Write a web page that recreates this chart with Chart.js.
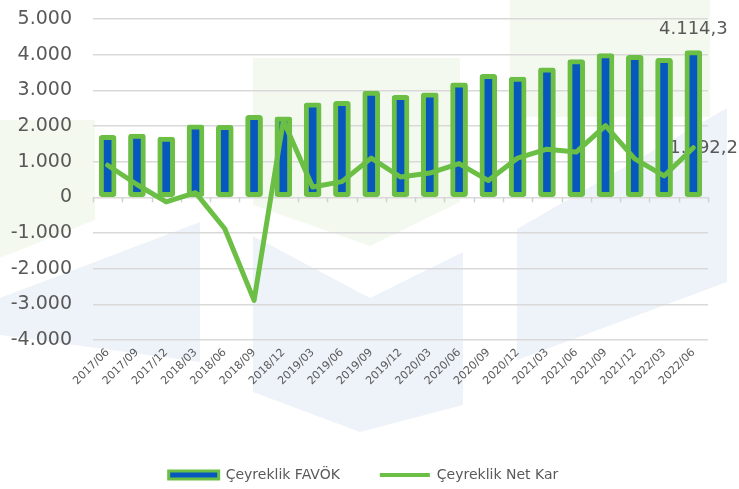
<!DOCTYPE html>
<html>
<head>
<meta charset="utf-8">
<script src="https://cdn.jsdelivr.net/npm/chart.js@4/dist/chart.umd.min.js"></script>
<style>
  html, body { margin: 0; padding: 0; background: #fff; }
  #wrap { width: 739px; height: 489px; }
</style>
</head>
<body>
<div id="wrap"><canvas id="chart" width="739" height="489"></canvas></div>
<script>
// quarters
const periods = ['2017/06', '2017/09', '2017/12', '2018/03', '2018/06', '2018/09', '2018/12',
    '2019/03', '2019/06', '2019/09', '2019/12', '2020/03', '2020/06', '2020/09', '2020/12',
    '2021/03', '2021/06', '2021/09', '2021/12', '2022/03', '2022/06'];

// Çeyreklik FAVÖK (bars)
const favok = [1740, 1770, 1690, 2030, 2020, 2300, 2260, 2650, 2690, 2980, 2860, 2930,
    3210, 3450, 3370, 3630, 3860, 4030, 3980, 3900, 4114.3];

// Çeyreklik Net Kar (line)
const netKar = [900, 360, -130, 130, -880, -2890, 2150, 290, 440, 1100, 570, 680,
    945, 470, 1100, 1350, 1270, 2010, 1080, 600, 1392.2];

const yMin = -4000;
const yMax = 5000;
const yStep = 1000;

const GREEN = '#6cbf45';
const BLUE = '#0657be';
const TEXT = '#595959';

function fmtThousands(n) {
    const s = Math.abs(n).toString().replace(/\B(?=(\d{3})+(?!\d))/g, '.');
    return (n < 0 ? '-' : '') + s;
}
function fmtValue(v) {
    const parts = v.toFixed(1).split('.');
    return fmtThousands(parseInt(parts[0], 10)) + ',' + parts[1];
}

// faint logo watermark behind the chart
const watermark = {
    id: 'watermark',
    beforeDraw(chart) {
        const ctx = chart.ctx;
        const poly = (pts, col) => {
            ctx.beginPath();
            ctx.moveTo(pts[0][0], pts[0][1]);
            for (let i = 1; i < pts.length; i++) ctx.lineTo(pts[i][0], pts[i][1]);
            ctx.closePath();
            ctx.fillStyle = col;
            ctx.fill();
        };
        ctx.save();
        const g = '#f4f9f0';
        const b = '#eef2f9';
        poly([[0, 120], [95, 120], [95, 220], [0, 258]], g);
        poly([[253, 58], [460, 58], [460, 202], [370, 246], [253, 205]], g);
        poly([[510, 0], [710, 0], [710, 117], [510, 117]], g);
        poly([[0, 298], [200, 222], [200, 362], [0, 335]], b);
        poly([[253, 236], [370, 298], [463, 252], [463, 405], [360, 432], [253, 392]], b);
        poly([[517, 229], [727, 108], [727, 282], [517, 360]], b);
        ctx.restore();
    }
};

// small tick marks on the zero line + value labels on the last points
const extras = {
    id: 'extras',
    beforeDatasetsDraw(chart) {
        const ctx = chart.ctx;
        const x = chart.scales.x, y = chart.scales.y;
        const y0 = y.getPixelForValue(0);
        const w = (x.right - x.left) / periods.length;
        ctx.save();
        ctx.strokeStyle = '#d0d0d0';
        ctx.lineWidth = 1.5;
        for (let i = 0; i <= periods.length; i++) {
            const px = Math.round(x.left + i * w) + 0.5;
            ctx.beginPath();
            ctx.moveTo(px, y0);
            ctx.lineTo(px, y0 + 5);
            ctx.stroke();
        }
        ctx.restore();

        // labels on the last bar and last line point
        const last = periods.length - 1;
        const barEl = chart.getDatasetMeta(0).data[last];
        const lineEl = chart.getDatasetMeta(1).data[last];
        ctx.save();
        ctx.font = '18px "DejaVu Sans"';
        ctx.fillStyle = TEXT;
        ctx.textBaseline = 'middle';
        const edge = chart.width - 1;
        const t1 = fmtValue(favok[last]);
        const w1 = ctx.measureText(t1).width;
        ctx.textAlign = 'left';
        ctx.fillText(t1, Math.min(barEl.x - w1 / 2, edge - w1), barEl.y - 21);
        const t2 = fmtValue(netKar[last]);
        const w2 = ctx.measureText(t2).width;
        ctx.fillText(t2, Math.min(lineEl.x + 8, edge - w2), lineEl.y + 1);
        ctx.restore();
    }
};

new Chart(document.getElementById('chart'), {
    data: {
        labels: periods,
        datasets: [
            {
                type: 'bar',
                label: 'Çeyreklik FAVÖK',
                data: favok,
                backgroundColor: BLUE,
                borderColor: GREEN,
                borderWidth: 5,
                borderRadius: 3,
                borderSkipped: false,
                barThickness: 17,
                order: 2
            },
            {
                type: 'line',
                label: 'Çeyreklik Net Kar',
                data: netKar,
                borderColor: GREEN,
                backgroundColor: GREEN,
                borderWidth: 5,
                pointRadius: 0,
                tension: 0,
                borderJoinStyle: 'round',
                borderCapStyle: 'round',
                order: 1
            }
        ]
    },
    options: {
        responsive: false,
        animation: false,
        layout: { padding: { top: 19, right: 12, left: 0, bottom: -3 } },
        plugins: {
            tooltip: { enabled: false },
            legend: {
                position: 'bottom',
                labels: {
                    usePointStyle: true,
                    pointStyleWidth: 50,
                    boxHeight: 8,
                    padding: 40,
                    color: TEXT,
                    font: { family: 'DejaVu Sans', size: 14 },
                    generateLabels: () => [
                        { text: 'Çeyreklik FAVÖK', fillStyle: BLUE, strokeStyle: GREEN, lineWidth: 3,
                          pointStyle: 'rect', hidden: false, datasetIndex: 0, fontColor: TEXT },
                        { text: 'Çeyreklik Net Kar', fillStyle: GREEN, strokeStyle: GREEN, lineWidth: 4,
                          pointStyle: 'line', hidden: false, datasetIndex: 1, fontColor: TEXT }
                    ]
                }
            }
        },
        scales: {
            x: {
                grid: { display: false, drawTicks: false },
                border: { display: false },
                ticks: {
                    color: TEXT,
                    font: { family: 'DejaVu Sans', size: 11 },
                    minRotation: 45,
                    maxRotation: 45,
                    autoSkip: false,
                    padding: 6
                },
                afterFit(scale) {
                    scale.height = 88;
                    scale.paddingRight = 31;
                }
            },
            y: {
                min: yMin,
                max: yMax,
                grid: { color: '#d9d9d9', lineWidth: 1.5, drawTicks: false },
                border: { display: false },
                ticks: {
                    stepSize: yStep,
                    color: TEXT,
                    font: { family: 'DejaVu Sans', size: 19 },
                    padding: 21,
                    callback: v => fmtThousands(v)
                },
                afterFit(scale) {
                    scale.width = 93;
                    scale.paddingTop = 0;
                    scale.paddingBottom = 0;
                }
            }
        }
    },
    plugins: [watermark, extras]
});
</script>
</body>
</html>
